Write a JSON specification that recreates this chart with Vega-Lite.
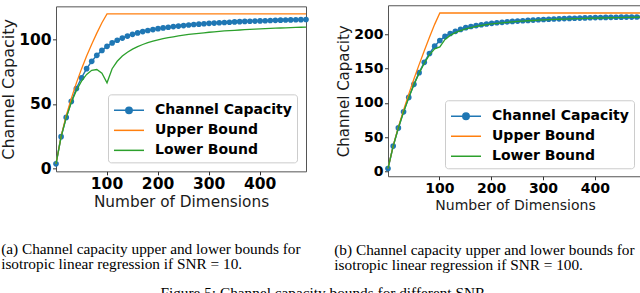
{
  "$schema": "https://vega.github.io/schema/vega-lite/v6.json",
  "padding": {"left": 0, "top": 0, "right": 0, "bottom": 0},
  "background": "white",
  "datasets": {
    "A": [
      {"d": 1, "Channel Capacity": 3.45, "Upper Bound": 3.45, "Lower Bound": 3.45},
      {"d": 11, "Channel Capacity": 24.56, "Upper Bound": 24.86, "Lower Bound": 24.46},
      {"d": 21, "Channel Capacity": 39.47, "Upper Bound": 40.78, "Lower Bound": 39.3},
      {"d": 31, "Channel Capacity": 51.9, "Upper Bound": 54.32, "Lower Bound": 51.05},
      {"d": 41, "Channel Capacity": 61.95, "Upper Bound": 66.3, "Lower Bound": 60.4},
      {"d": 51, "Channel Capacity": 70.3, "Upper Bound": 77.16, "Lower Bound": 67.7},
      {"d": 61, "Channel Capacity": 77.35, "Upper Bound": 87.1, "Lower Bound": 72.9},
      {"d": 71, "Channel Capacity": 83.0, "Upper Bound": 96.33, "Lower Bound": 76.06},
      {"d": 81, "Channel Capacity": 87.7, "Upper Bound": 104.94, "Lower Bound": 76.65},
      {"d": 91, "Channel Capacity": 91.5, "Upper Bound": 113.02, "Lower Bound": 73.8},
      {"d": 101, "Channel Capacity": 94.7, "Upper Bound": 119.89, "Lower Bound": 66.35},
      {"d": 111, "Channel Capacity": 97.3, "Upper Bound": 119.89, "Lower Bound": 77.27},
      {"d": 121, "Channel Capacity": 99.4, "Upper Bound": 119.89, "Lower Bound": 83.08},
      {"d": 131, "Channel Capacity": 101.1, "Upper Bound": 119.89, "Lower Bound": 87.11},
      {"d": 141, "Channel Capacity": 102.6, "Upper Bound": 119.89, "Lower Bound": 90.14},
      {"d": 151, "Channel Capacity": 104.0, "Upper Bound": 119.89, "Lower Bound": 92.54},
      {"d": 161, "Channel Capacity": 105.1, "Upper Bound": 119.89, "Lower Bound": 94.49},
      {"d": 171, "Channel Capacity": 106.1, "Upper Bound": 119.89, "Lower Bound": 96.1},
      {"d": 181, "Channel Capacity": 107.0, "Upper Bound": 119.89, "Lower Bound": 97.49},
      {"d": 191, "Channel Capacity": 107.7, "Upper Bound": 119.89, "Lower Bound": 98.7},
      {"d": 201, "Channel Capacity": 108.4, "Upper Bound": 119.89, "Lower Bound": 99.72},
      {"d": 211, "Channel Capacity": 109.0, "Upper Bound": 119.89, "Lower Bound": 100.6},
      {"d": 221, "Channel Capacity": 109.5, "Upper Bound": 119.89, "Lower Bound": 101.4},
      {"d": 231, "Channel Capacity": 110.0, "Upper Bound": 119.89, "Lower Bound": 102.1},
      {"d": 241, "Channel Capacity": 110.4, "Upper Bound": 119.89, "Lower Bound": 102.8},
      {"d": 251, "Channel Capacity": 110.8, "Upper Bound": 119.89, "Lower Bound": 103.37},
      {"d": 261, "Channel Capacity": 111.2, "Upper Bound": 119.89, "Lower Bound": 103.9},
      {"d": 271, "Channel Capacity": 111.6, "Upper Bound": 119.89, "Lower Bound": 104.4},
      {"d": 281, "Channel Capacity": 111.9, "Upper Bound": 119.89, "Lower Bound": 104.8},
      {"d": 291, "Channel Capacity": 112.2, "Upper Bound": 119.89, "Lower Bound": 105.2},
      {"d": 301, "Channel Capacity": 112.5, "Upper Bound": 119.89, "Lower Bound": 105.62},
      {"d": 311, "Channel Capacity": 112.7, "Upper Bound": 119.89, "Lower Bound": 105.97},
      {"d": 321, "Channel Capacity": 113.0, "Upper Bound": 119.89, "Lower Bound": 106.3},
      {"d": 331, "Channel Capacity": 113.2, "Upper Bound": 119.89, "Lower Bound": 106.6},
      {"d": 341, "Channel Capacity": 113.4, "Upper Bound": 119.89, "Lower Bound": 106.9},
      {"d": 351, "Channel Capacity": 113.6, "Upper Bound": 119.89, "Lower Bound": 107.13},
      {"d": 361, "Channel Capacity": 113.8, "Upper Bound": 119.89, "Lower Bound": 107.37},
      {"d": 371, "Channel Capacity": 114.0, "Upper Bound": 119.89, "Lower Bound": 107.6},
      {"d": 381, "Channel Capacity": 114.15, "Upper Bound": 119.89, "Lower Bound": 107.82},
      {"d": 391, "Channel Capacity": 114.3, "Upper Bound": 119.89, "Lower Bound": 108.03},
      {"d": 401, "Channel Capacity": 114.4, "Upper Bound": 119.89, "Lower Bound": 108.23},
      {"d": 411, "Channel Capacity": 114.55, "Upper Bound": 119.89, "Lower Bound": 108.42},
      {"d": 421, "Channel Capacity": 114.7, "Upper Bound": 119.89, "Lower Bound": 108.59},
      {"d": 431, "Channel Capacity": 114.85, "Upper Bound": 119.89, "Lower Bound": 108.76},
      {"d": 441, "Channel Capacity": 115.0, "Upper Bound": 119.89, "Lower Bound": 108.91},
      {"d": 451, "Channel Capacity": 115.1, "Upper Bound": 119.89, "Lower Bound": 109.06},
      {"d": 461, "Channel Capacity": 115.2, "Upper Bound": 119.89, "Lower Bound": 109.2},
      {"d": 471, "Channel Capacity": 115.3, "Upper Bound": 119.89, "Lower Bound": 109.34},
      {"d": 481, "Channel Capacity": 115.4, "Upper Bound": 119.89, "Lower Bound": 109.47},
      {"d": 491, "Channel Capacity": 115.5, "Upper Bound": 119.89, "Lower Bound": 109.6}
    ],
    "B": [
      {"d": 1, "Channel Capacity": 4.6, "Upper Bound": 4.61, "Lower Bound": 4.6},
      {"d": 11, "Channel Capacity": 37.2, "Upper Bound": 37.47, "Lower Bound": 37.12},
      {"d": 21, "Channel Capacity": 63.6, "Upper Bound": 64.76, "Lower Bound": 63.48},
      {"d": 31, "Channel Capacity": 87.0, "Upper Bound": 89.58, "Lower Bound": 86.74},
      {"d": 41, "Channel Capacity": 108.0, "Upper Bound": 112.77, "Lower Bound": 107.6},
      {"d": 51, "Channel Capacity": 127.0, "Upper Bound": 134.73, "Lower Bound": 126.42},
      {"d": 61, "Channel Capacity": 143.96, "Upper Bound": 155.72, "Lower Bound": 143.13},
      {"d": 71, "Channel Capacity": 158.98, "Upper Bound": 175.9, "Lower Bound": 157.84},
      {"d": 81, "Channel Capacity": 171.9, "Upper Bound": 195.37, "Lower Bound": 169.9},
      {"d": 91, "Channel Capacity": 182.6, "Upper Bound": 214.24, "Lower Bound": 178.57},
      {"d": 101, "Channel Capacity": 190.8, "Upper Bound": 230.76, "Lower Bound": 181.48},
      {"d": 111, "Channel Capacity": 196.7, "Upper Bound": 230.76, "Lower Bound": 192.4},
      {"d": 121, "Channel Capacity": 201.0, "Upper Bound": 230.76, "Lower Bound": 198.21},
      {"d": 131, "Channel Capacity": 204.1, "Upper Bound": 230.76, "Lower Bound": 202.24},
      {"d": 141, "Channel Capacity": 206.9, "Upper Bound": 230.76, "Lower Bound": 205.27},
      {"d": 151, "Channel Capacity": 209.5, "Upper Bound": 230.76, "Lower Bound": 207.67},
      {"d": 161, "Channel Capacity": 211.1, "Upper Bound": 230.76, "Lower Bound": 209.62},
      {"d": 171, "Channel Capacity": 212.5, "Upper Bound": 230.76, "Lower Bound": 211.2},
      {"d": 181, "Channel Capacity": 213.7, "Upper Bound": 230.76, "Lower Bound": 212.62},
      {"d": 191, "Channel Capacity": 214.8, "Upper Bound": 230.76, "Lower Bound": 213.8},
      {"d": 201, "Channel Capacity": 215.8, "Upper Bound": 230.76, "Lower Bound": 214.85},
      {"d": 211, "Channel Capacity": 216.55, "Upper Bound": 230.76, "Lower Bound": 215.7},
      {"d": 221, "Channel Capacity": 217.25, "Upper Bound": 230.76, "Lower Bound": 216.5},
      {"d": 231, "Channel Capacity": 217.9, "Upper Bound": 230.76, "Lower Bound": 217.2},
      {"d": 241, "Channel Capacity": 218.5, "Upper Bound": 230.76, "Lower Bound": 217.9},
      {"d": 251, "Channel Capacity": 219.05, "Upper Bound": 230.76, "Lower Bound": 218.5},
      {"d": 261, "Channel Capacity": 219.55, "Upper Bound": 230.76, "Lower Bound": 219.0},
      {"d": 271, "Channel Capacity": 220.05, "Upper Bound": 230.76, "Lower Bound": 219.5},
      {"d": 281, "Channel Capacity": 220.5, "Upper Bound": 230.76, "Lower Bound": 219.9},
      {"d": 291, "Channel Capacity": 220.95, "Upper Bound": 230.76, "Lower Bound": 220.3},
      {"d": 301, "Channel Capacity": 221.4, "Upper Bound": 230.76, "Lower Bound": 220.75},
      {"d": 311, "Channel Capacity": 221.75, "Upper Bound": 230.76, "Lower Bound": 221.1},
      {"d": 321, "Channel Capacity": 222.05, "Upper Bound": 230.76, "Lower Bound": 221.4},
      {"d": 331, "Channel Capacity": 222.35, "Upper Bound": 230.76, "Lower Bound": 221.7},
      {"d": 341, "Channel Capacity": 222.65, "Upper Bound": 230.76, "Lower Bound": 222.0},
      {"d": 351, "Channel Capacity": 222.9, "Upper Bound": 230.76, "Lower Bound": 222.26},
      {"d": 361, "Channel Capacity": 223.15, "Upper Bound": 230.76, "Lower Bound": 222.5},
      {"d": 371, "Channel Capacity": 223.4, "Upper Bound": 230.76, "Lower Bound": 222.7},
      {"d": 381, "Channel Capacity": 223.65, "Upper Bound": 230.76, "Lower Bound": 222.95},
      {"d": 391, "Channel Capacity": 223.9, "Upper Bound": 230.76, "Lower Bound": 223.16},
      {"d": 401, "Channel Capacity": 224.1, "Upper Bound": 230.76, "Lower Bound": 223.36},
      {"d": 411, "Channel Capacity": 224.25, "Upper Bound": 230.76, "Lower Bound": 223.55},
      {"d": 421, "Channel Capacity": 224.4, "Upper Bound": 230.76, "Lower Bound": 223.72},
      {"d": 431, "Channel Capacity": 224.5, "Upper Bound": 230.76, "Lower Bound": 223.89},
      {"d": 441, "Channel Capacity": 224.6, "Upper Bound": 230.76, "Lower Bound": 224.04},
      {"d": 451, "Channel Capacity": 224.7, "Upper Bound": 230.76, "Lower Bound": 224.19},
      {"d": 461, "Channel Capacity": 224.8, "Upper Bound": 230.76, "Lower Bound": 224.33},
      {"d": 471, "Channel Capacity": 224.9, "Upper Bound": 230.76, "Lower Bound": 224.47},
      {"d": 481, "Channel Capacity": 225.0, "Upper Bound": 230.76, "Lower Bound": 224.6},
      {"d": 491, "Channel Capacity": 225.1, "Upper Bound": 230.76, "Lower Bound": 224.73}
    ]
  },
  "title": {
    "text": "Figure 5: Channel capacity bounds for different SNR",
    "orient": "bottom",
    "anchor": "middle",
    "font": "Liberation Serif",
    "fontSize": 15.3,
    "fontWeight": "normal",
    "color": "black",
    "offset": 12
  },
  "spacing": 24,
  "center": true,
  "resolve": {"scale": {"color": "independent"}, "legend": {"color": "independent"}},
  "hconcat": [
    {
      "title": {
        "text": ["(a) Channel capacity upper and lower bounds for", "isotropic linear regression if SNR = 10."],
        "orient": "bottom",
        "anchor": "start",
        "font": "Liberation Serif",
        "fontSize": 15.3,
        "fontWeight": "normal",
        "color": "black",
        "lineHeight": 15.7,
        "offset": 31,
        "dx": 1
      },
      "resolve": {"scale": {"color": "independent"}, "legend": {"color": "independent"}},
      "vconcat": [
        {
          "width": 250,
          "height": 165,
          "title": {"text": " ", "fontSize": 1, "offset": 4, "orient": "top"},
          "data": {"name": "A"},
          "transform": [{"fold": ["Channel Capacity", "Upper Bound", "Lower Bound"], "as": ["s", "v"]}],
          "encoding": {
            "x": {
              "field": "d", "type": "quantitative",
              "scale": {"domain": [1, 491], "nice": false, "zero": false},
              "axis": {"values": [100, 200, 300, 400], "title": "Number of Dimensions", "labelFontSize": 15.5, "titleFontSize": 15.3, "titlePadding": 3}
            },
            "y": {
              "field": "v", "type": "quantitative",
              "scale": {"domain": [-2.37, 125.71], "nice": false, "zero": false},
              "axis": {"values": [0, 50, 100], "title": "Channel Capacity", "labelFontSize": 15.5, "titleFontSize": 16, "titlePadding": 2}
            },
            "color": {
              "field": "s", "type": "nominal",
              "scale": {"domain": ["Channel Capacity", "Upper Bound", "Lower Bound"], "range": ["#1f77b4", "#ff7f0e", "#2ca02c"]},
              "legend": {
                "title": null, "orient": "bottom-right", "offset": 9,
                "labelFont": "DejaVu Sans", "labelFontSize": 14, "labelFontWeight": "bold", "labelColor": "black",
                "symbolSize": 400, "symbolStrokeWidth": 1.5, "symbolType": "stroke",
                "labelOffset": 20, "rowPadding": 2, "padding": 5,
                "fillColor": "rgba(255,255,255,0.8)", "strokeColor": "#cccccc", "cornerRadius": 3,
                "encoding": {
                  "symbols": {
                    "shape": {"value": {"expr": "datum.value === 'Channel Capacity' ? 'M-1,0H2M0.18,0A0.32,0.32,0,1,0,0.82,0A0.32,0.32,0,1,0,0.18,0Z' : 'M-1,0H2'"}},
                    "fill": {"value": {"expr": "datum.value === 'Channel Capacity' ? '#1f77b4' : 'transparent'"}}
                  }
                }
              }
            }
          },
          "layer": [
            {"transform": [{"filter": "datum.s === 'Channel Capacity'"}], "mark": {"type": "line", "strokeWidth": 1.5}},
            {"transform": [{"filter": "datum.s === 'Channel Capacity'"}], "mark": {"type": "point", "filled": true, "size": 32, "opacity": 1}},
            {"transform": [{"filter": "datum.s === 'Upper Bound'"}], "mark": {"type": "line", "strokeWidth": 1.3}},
            {"transform": [{"filter": "datum.s === 'Lower Bound'"}], "mark": {"type": "line", "strokeWidth": 1.3}}
          ]
        }
      ]
    },
    {
      "title": {
        "text": ["(b) Channel capacity upper and lower bounds for", "isotropic linear regression if SNR = 100."],
        "orient": "bottom",
        "anchor": "start",
        "font": "Liberation Serif",
        "fontSize": 15.3,
        "fontWeight": "normal",
        "color": "black",
        "lineHeight": 15.7,
        "offset": 30,
        "dx": -2
      },
      "resolve": {"scale": {"color": "independent"}, "legend": {"color": "independent"}},
      "vconcat": [
        {
          "width": 254,
          "height": 171,
          "data": {"name": "B"},
          "transform": [{"fold": ["Channel Capacity", "Upper Bound", "Lower Bound"], "as": ["s", "v"]}],
          "encoding": {
            "x": {
              "field": "d", "type": "quantitative",
              "scale": {"domain": [1, 491], "nice": false, "zero": false},
              "axis": {"values": [100, 200, 300, 400], "title": "Number of Dimensions", "labelFontSize": 14, "titleFontSize": 14, "titlePadding": 3}
            },
            "y": {
              "field": "v", "type": "quantitative",
              "scale": {"domain": [-6.71, 242.07], "nice": false, "zero": false},
              "axis": {"values": [0, 50, 100, 150, 200], "title": "Channel Capacity", "labelFontSize": 14, "titleFontSize": 15, "titlePadding": 2}
            },
            "color": {
              "field": "s", "type": "nominal",
              "scale": {"domain": ["Channel Capacity", "Upper Bound", "Lower Bound"], "range": ["#1f77b4", "#ff7f0e", "#2ca02c"]},
              "legend": {
                "title": null, "orient": "bottom-right", "offset": 8,
                "labelFont": "DejaVu Sans", "labelFontSize": 14, "labelFontWeight": "bold", "labelColor": "black",
                "symbolSize": 400, "symbolStrokeWidth": 1.5, "symbolType": "stroke",
                "labelOffset": 20, "rowPadding": 2, "padding": 5,
                "fillColor": "rgba(255,255,255,0.8)", "strokeColor": "#cccccc", "cornerRadius": 3,
                "encoding": {
                  "symbols": {
                    "shape": {"value": {"expr": "datum.value === 'Channel Capacity' ? 'M-1,0H2M0.18,0A0.32,0.32,0,1,0,0.82,0A0.32,0.32,0,1,0,0.18,0Z' : 'M-1,0H2'"}},
                    "fill": {"value": {"expr": "datum.value === 'Channel Capacity' ? '#1f77b4' : 'transparent'"}}
                  }
                }
              }
            }
          },
          "layer": [
            {"transform": [{"filter": "datum.s === 'Channel Capacity'"}], "mark": {"type": "line", "strokeWidth": 1.5}},
            {"transform": [{"filter": "datum.s === 'Channel Capacity'"}], "mark": {"type": "point", "filled": true, "size": 32, "opacity": 1}},
            {"transform": [{"filter": "datum.s === 'Upper Bound'"}], "mark": {"type": "line", "strokeWidth": 1.3}},
            {"transform": [{"filter": "datum.s === 'Lower Bound'"}], "mark": {"type": "line", "strokeWidth": 1.3}}
          ]
        }
      ]
    }
  ],
  "config": {
    "view": {"stroke": "#555555", "strokeWidth": 1},
    "axis": {
      "labelFont": "DejaVu Sans",
      "labelFontWeight": "bold",
      "labelColor": "black",
      "titleFont": "DejaVu Sans",
      "titleFontWeight": "normal",
      "titleColor": "#1a1a1a",
      "grid": false,
      "domain": false,
      "tickColor": "#333333",
      "tickSize": 3.5,
      "tickWidth": 1,
      "labelPadding": 1.5,
      "labelFlush": false,
      "labelOverlap": false
    }
  }
}
